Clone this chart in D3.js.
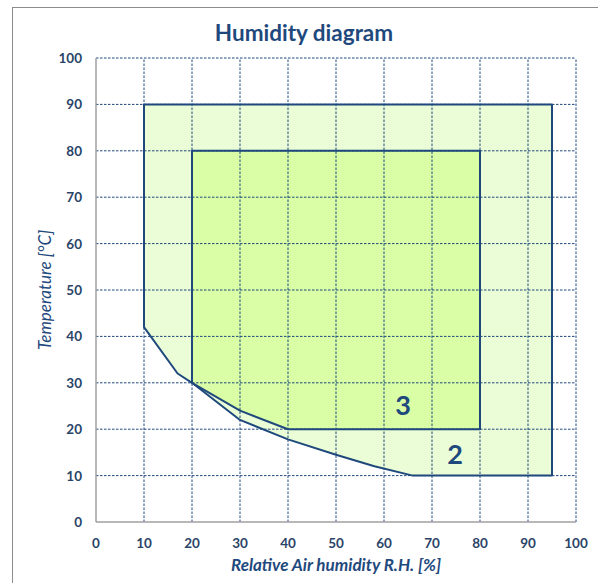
<!DOCTYPE html>
<html>
<head>
<meta charset="utf-8">
<script src="https://cdn.jsdelivr.net/npm/d3@7"></script>
<style>
  body { margin: 0; background: #fff; }
  svg { font-family: Lato, "Open Sans", sans-serif; }
</style>
</head>
<body>
<svg width="598" height="583"></svg>
<script>
// Data
const xTicks = [0, 10, 20, 30, 40, 50, 60, 70, 80, 90, 100];
const yTicks = [0, 10, 20, 30, 40, 50, 60, 70, 80, 90, 100];

// zone 2 outline (R.H. %, temp °C)
const zone2 = [
  [10, 90], [95, 90], [95, 10], [66, 10], [58, 12], [50, 14.5],
  [40, 17.8], [30, 22], [20, 30], [17, 32], [10, 42]
];
// zone 3 outline
const zone3 = [
  [20, 80], [80, 80], [80, 20], [40, 20], [30, 24], [20, 30]
];
const zoneLabels = [
  { text: "3", x: 64, y: 25 },
  { text: "2", x: 74.8, y: 14.5 }
];

const navy = "#1f497d";
const textCol = "#2a4468";

const svg = d3.select("svg");

// Outer frame
svg.append("rect")
  .attr("x", 12.5).attr("y", 7.5)
  .attr("width", 600).attr("height", 600)
  .attr("fill", "none").attr("stroke", "#8c8c8c").attr("stroke-width", 1);

const x = d3.scaleLinear().domain([0, 100]).range([96, 576]);
const y = d3.scaleLinear().domain([0, 100]).range([522, 58]);

// Title
svg.append("text")
  .attr("x", 304).attr("y", 41)
  .attr("text-anchor", "middle")
  .attr("font-size", 22.5).attr("font-weight", "bold")
  .attr("fill", navy)
  .text("Humidity diagram");

// Zones
const line = d3.line().x(d => x(d[0])).y(d => y(d[1]));

svg.append("path")
  .attr("d", line(zone2) + "Z")
  .attr("fill", "#ebfdd6");

svg.append("path")
  .attr("d", line(zone3) + "Z")
  .attr("fill", "#d9fea6");

// Grid
const grid = svg.append("g");
grid.selectAll("line.v")
  .data(xTicks.filter(d => d > 0))
  .enter().append("line")
  .attr("x1", d => x(d)).attr("x2", d => x(d))
  .attr("y1", y(0)).attr("y2", y(100))
  .attr("stroke", navy).attr("stroke-width", 1)
  .attr("stroke-dasharray", "2.5,1.5");
grid.selectAll("line.h")
  .data(yTicks.filter(d => d > 0))
  .enter().append("line")
  .attr("x1", x(0)).attr("x2", x(100))
  .attr("y1", d => y(d)).attr("y2", d => y(d))
  .attr("stroke", navy).attr("stroke-width", 1)
  .attr("stroke-dasharray", "2.5,1.5");

// zone outlines on top of grid
svg.append("path")
  .attr("d", line(zone2) + "Z")
  .attr("fill", "none").attr("stroke", navy).attr("stroke-width", 2)
  .attr("stroke-linejoin", "round");
svg.append("path")
  .attr("d", line(zone3) + "Z")
  .attr("fill", "none").attr("stroke", navy).attr("stroke-width", 2)
  .attr("stroke-linejoin", "round");

// Axis lines (left and bottom)
svg.append("line")
  .attr("x1", x(0)).attr("x2", x(0)).attr("y1", y(0)).attr("y2", y(100))
  .attr("stroke", "#a0a0a0").attr("stroke-width", 1.5);
svg.append("line")
  .attr("x1", x(0)).attr("x2", x(100)).attr("y1", y(0)).attr("y2", y(0))
  .attr("stroke", "#a0a0a0").attr("stroke-width", 1.5);

// Tick labels
svg.append("g").selectAll("text")
  .data(xTicks)
  .enter().append("text")
  .attr("x", d => x(d)).attr("y", 548)
  .attr("text-anchor", "middle")
  .attr("font-size", 13.5).attr("font-weight", "bold")
  .attr("fill", textCol)
  .text(d => d);

svg.append("g").selectAll("text")
  .data(yTicks)
  .enter().append("text")
  .attr("x", 82).attr("y", d => y(d) + 5)
  .attr("text-anchor", "end")
  .attr("font-size", 13.5).attr("font-weight", "bold")
  .attr("fill", textCol)
  .text(d => d);

// Zone labels
svg.append("g").selectAll("text")
  .data(zoneLabels)
  .enter().append("text")
  .attr("x", d => x(d.x)).attr("y", d => y(d.y) + 9)
  .attr("text-anchor", "middle")
  .attr("font-size", 27).attr("font-weight", "bold")
  .attr("fill", navy)
  .text(d => d.text);

// Axis titles
svg.append("text")
  .attr("x", 336).attr("y", 571)
  .attr("text-anchor", "middle")
  .attr("font-size", 17).attr("font-weight", "bold").attr("font-style", "italic")
  .attr("fill", navy)
  .text("Relative Air humidity R.H. [%]");

svg.append("text")
  .attr("transform", "translate(51,290) rotate(-90)")
  .attr("text-anchor", "middle")
  .attr("font-size", 17).attr("font-style", "italic")
  .attr("fill", navy)
  .text("Temperature [°C]");
</script>
</body>
</html>
